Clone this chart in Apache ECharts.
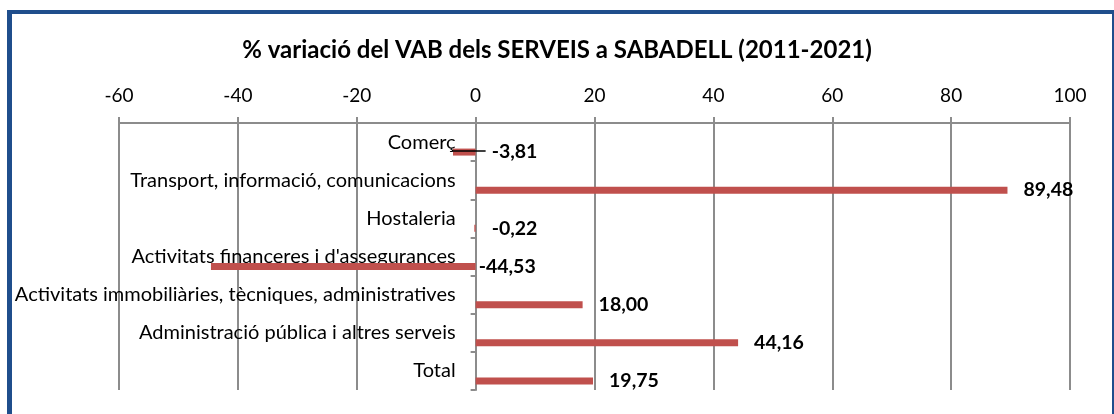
<!DOCTYPE html>
<html>
<head>
<meta charset="utf-8">
<script src="https://cdn.jsdelivr.net/npm/echarts@6/dist/echarts.min.js"></script>
<style>
    html, body {margin:0;padding:0;background:#fff;}
    #chart {position:absolute;left:0;top:0;width:1114px;height:414px;}
    .frame {position:absolute;left:7px;top:10px;width:1100px;height:420px;
        border-left:5px solid #1F4E8C;border-top:4px solid #1F4E8C;border-right:3px solid #1F4E8C;
        pointer-events:none;}
</style>
</head>
<body>
<div id="chart"></div>
<div class="frame"></div>
<script>
    // dades llegides del gràfic
    var categories = ['Comerç', 'Transport, informació, comunicacions', 'Hostaleria',
        "Activitats financeres i d'assegurances", 'Activitats immobiliàries, tècniques, administratives',
        'Administració pública i altres serveis', 'Total'];
    var variacio = [-3.81, 89.48, -0.22, -44.53, 18.00, 44.16, 19.75];
    var xTicks = [-60, -40, -20, 0, 20, 40, 60, 80, 100];

    var fontFam = 'Lato, "Open Sans", sans-serif';
    var gris = '#8C8C8C';
    var gridLeft = 119;

    var myChart = echarts.init(document.getElementById('chart'));

    var barData = variacio.map(function (v) {
        return {
            value: v,
            label: {distance: v < -10 ? 3 : 16}
        };
    });

    var option = {
        animation: false,
        title: {
            text: '% variació del VAB dels SERVEIS a SABADELL (2011-2021)',
            left: 'center',
            top: 33,
            textStyle: {fontFamily: fontFam, fontSize: 24, fontWeight: 'bold', color: '#000'}
        },
        grid: {left: gridLeft, right: 44, top: 123, bottom: 24, containLabel: false, outerBoundsMode: 'none'},
        xAxis: {
            type: 'value',
            position: 'top',
            min: xTicks[0],
            max: xTicks[xTicks.length - 1],
            interval: 20,
            axisLine: {show: true, lineStyle: {color: gris, width: 2}},
            axisTick: {show: true, length: 6, lineStyle: {color: gris, width: 2}},
            splitLine: {show: true, lineStyle: {color: gris, width: 2}},
            axisLabel: {fontFamily: fontFam, fontSize: 19, color: '#000', margin: 18}
        },
        yAxis: {
            type: 'category',
            inverse: true,
            data: categories,
            axisLine: {show: true, onZero: false, lineStyle: {color: gris, width: 2}},
            axisTick: {show: true, length: 5, lineStyle: {color: gris, width: 2}},
            splitLine: {show: false},
            axisLabel: {fontFamily: fontFam, fontSize: 20, color: '#000', margin: 20}
        },
        series: [
            {
                // serie buida per desplaçar la barra cap avall
                name: 'buit',
                type: 'bar',
                barWidth: 20,
                barGap: 0,
                silent: true,
                itemStyle: {color: 'transparent'},
                data: variacio.map(function () { return 0; })
            },
            {
                name: 'variació',
                type: 'bar',
                barWidth: 7,
                barGap: 0,
                itemStyle: {color: '#C0504D'},
                label: {
                    show: true,
                    position: 'right',
                    fontFamily: fontFam,
                    fontSize: 19.5,
                    fontWeight: 'bold',
                    color: '#000',
                    formatter: function (p) {
                        return p.value.toFixed(2).replace('.', ',');
                    }
                },
                data: barData
            }
        ]
    };
    myChart.setOption(option);

    // eix de categories sobre el zero, i línia guia de l'etiqueta de Comerç
    var x0 = myChart.convertToPixel({xAxisIndex: 0}, variacio[0]);
    var xz = myChart.convertToPixel({xAxisIndex: 0}, 0);
    var yc = myChart.convertToPixel({yAxisIndex: 0}, categories[0]);
    myChart.setOption({
        yAxis: {offset: -(xz - gridLeft)},
        graphic: [{
            type: 'line',
            shape: {x1: x0, y1: yc + 9, x2: xz + 10, y2: yc + 9},
            style: {stroke: '#000', lineWidth: 1.5},
            z: 10
        }]
    });
</script>
</body>
</html>
